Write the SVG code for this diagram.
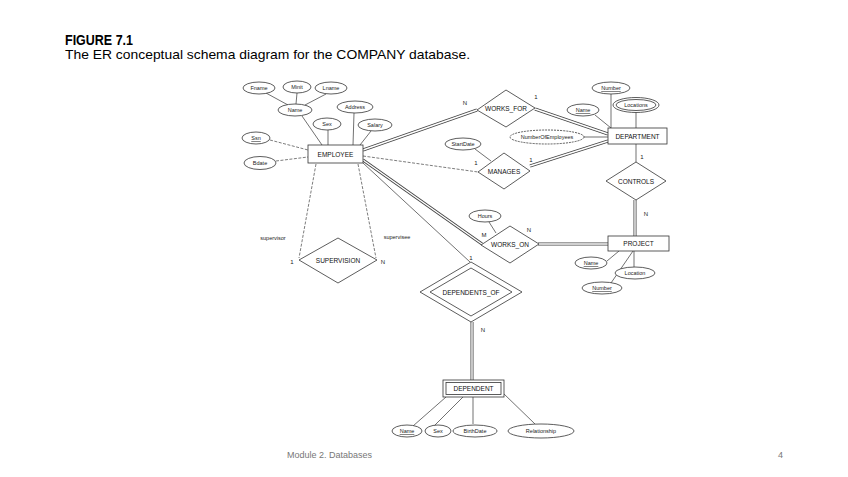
<svg xmlns="http://www.w3.org/2000/svg" width="848" height="477" viewBox="0 0 848 477">
<style>
.t{font-family:"Liberation Sans",Arial,sans-serif;fill:#000}
.lab{font-family:"Liberation Sans",Arial,sans-serif;font-size:5.5px;text-anchor:middle;fill:#222}
.ent{font-family:"Liberation Sans",Arial,sans-serif;font-size:6.5px;text-anchor:middle;fill:#111}
.card{font-family:"Liberation Sans",Arial,sans-serif;font-size:6px;text-anchor:middle;fill:#222}
.sh{fill:#fff;stroke:#333;stroke-width:0.8}
.ln{fill:none;stroke:#333;stroke-width:0.7}
.dl{fill:none;stroke:#444;stroke-width:0.7;stroke-dasharray:3 1.5}
.d1{fill:none;stroke:#444;stroke-width:3}
.d2{fill:none;stroke:#fff;stroke-width:1.4}
.dash{stroke-dasharray:2 1}
</style>
<rect width="848" height="477" fill="#fff"/>
<text class="t" x="65" y="45" font-size="14" font-weight="bold" textLength="68" lengthAdjust="spacingAndGlyphs">FIGURE 7.1</text>
<text class="t" x="65" y="59" font-size="13" textLength="405" lengthAdjust="spacingAndGlyphs">The ER conceptual schema diagram for the COMPANY database.</text>

<g id="connectors">
<line class="ln" x1="266" y1="93" x2="288" y2="105"/>
<line class="ln" x1="297" y1="93" x2="296" y2="104"/>
<line class="ln" x1="326" y1="94" x2="305" y2="105"/>
<line class="ln" x1="302" y1="116" x2="322" y2="145"/>
<line class="ln" x1="328" y1="130" x2="328" y2="145"/>
<line class="ln" x1="354" y1="113" x2="353" y2="145"/>
<line class="ln" x1="371" y1="131" x2="360" y2="145"/>
<line class="dl" x1="270" y1="140" x2="308" y2="150"/>
<line class="dl" x1="276" y1="161" x2="308" y2="157"/>
<line class="dl" x1="316" y1="164" x2="299" y2="258"/>
<line class="dl" x1="358" y1="164" x2="376" y2="258"/>
<path class="d1" d="M363,150 L477,110"/><path class="d2" d="M363,150 L477,110"/>
<path class="d1" d="M535,109 L608,134"/><path class="d2" d="M535,109 L608,134"/>
<line class="dl" x1="363" y1="156" x2="478" y2="172"/>
<path class="d1" d="M530,166 L608,141"/><path class="d2" d="M530,166 L608,141"/>
<line class="ln" x1="475" y1="149" x2="491" y2="161"/>
<line class="ln" x1="611" y1="94" x2="611" y2="128"/>
<line class="ln" x1="595" y1="115" x2="611" y2="128"/>
<line class="ln" x1="636" y1="112" x2="636" y2="128"/>
<line class="ln" x1="584" y1="137" x2="608" y2="137"/>
<line class="ln" x1="636" y1="144" x2="636" y2="162"/>
<path class="d1" d="M635,200 L635,236"/><path class="d2" d="M635,200 L635,236"/>
<path class="d1" d="M363,160 L482,244"/><path class="d2" d="M363,160 L482,244"/>
<path class="d1" d="M538,244 L608,244"/><path class="d2" d="M538,244 L608,244"/>
<line class="ln" x1="489" y1="222" x2="496" y2="233"/>
<line class="ln" x1="363" y1="163" x2="470" y2="262"/>
<path class="d1" d="M472,322 L472,380"/><path class="d2" d="M472,322 L472,380"/>
<line class="ln" x1="607" y1="261" x2="619" y2="251"/>
<line class="ln" x1="634" y1="251" x2="634" y2="267"/>
<line class="ln" x1="611" y1="283" x2="633" y2="251"/>
<line class="ln" x1="413" y1="426" x2="446" y2="397"/>
<line class="ln" x1="434" y1="426" x2="463" y2="397"/>
<line class="ln" x1="473" y1="397" x2="473" y2="424"/>
<line class="ln" x1="503" y1="393" x2="535" y2="424"/>
</g>

<g id="labels">
<text class="card" x="465" y="105">N</text>
<text class="card" x="536" y="99">1</text>
<text class="card" x="476" y="165">1</text>
<text class="card" x="531" y="162">1</text>
<text class="card" x="642" y="159">1</text>
<text class="card" x="646" y="216">N</text>
<text class="card" x="484" y="237" font-size="7">M</text>
<text class="card" x="529" y="232">N</text>
<text class="card" x="471" y="260">1</text>
<text class="card" x="483" y="332">N</text>
<text class="lab" x="273" y="240">supervisor</text>
<text class="lab" x="397" y="239">supervisee</text>
<text class="card" x="292" y="264">1</text>
<text class="card" x="383" y="264">N</text>
</g>

<g id="EMPLOYEE"><rect class="sh" x="308" y="145" width="55" height="18"/><text class="ent" x="335.5" y="156.5">EMPLOYEE</text></g>
<g id="Fname"><ellipse class="sh" cx="259" cy="88" rx="16" ry="6"/><text class="lab" x="259" y="90">Fname</text></g>
<g id="Minit"><ellipse class="sh" cx="297" cy="87" rx="14" ry="6"/><text class="lab" x="297" y="89">Minit</text></g>
<g id="Lname"><ellipse class="sh" cx="331" cy="88" rx="16" ry="6"/><text class="lab" x="331" y="90">Lname</text></g>
<g id="Name"><ellipse class="sh" cx="295" cy="110" rx="17" ry="6"/><text class="lab" x="295" y="112">Name</text></g>
<g id="Address"><ellipse class="sh" cx="355" cy="107" rx="18" ry="6"/><text class="lab" x="355" y="109">Address</text></g>
<g id="Sex"><ellipse class="sh" cx="327" cy="124" rx="14" ry="6"/><text class="lab" x="327" y="126">Sex</text></g>
<g id="Salary"><ellipse class="sh" cx="375" cy="125" rx="17" ry="6"/><text class="lab" x="375" y="127">Salary</text></g>
<g id="Ssn"><ellipse class="sh" cx="256" cy="138" rx="14" ry="6"/><text class="lab" x="256" y="140" text-decoration="underline">Ssn</text></g>
<g id="Bdate"><ellipse class="sh" cx="260" cy="163" rx="16" ry="6.5"/><text class="lab" x="260" y="165">Bdate</text></g>

<g id="WORKS_FOR"><polygon class="sh" points="506,90 535,108 506,127 477,110"/><text class="ent" x="506" y="110.5">WORKS_FOR</text></g>
<g id="DEPARTMENT"><rect class="sh" x="608" y="128" width="59" height="16"/><text class="ent" x="637.5" y="138.5">DEPARTMENT</text></g>
<g id="DeptNumber"><ellipse class="sh" cx="611" cy="88" rx="19" ry="6"/><text class="lab" x="611" y="90" text-decoration="underline">Number</text></g>
<g id="DeptName"><ellipse class="sh" cx="583" cy="110" rx="16" ry="6"/><text class="lab" x="583" y="112" text-decoration="underline">Name</text></g>
<g id="Locations"><ellipse class="sh" cx="636" cy="105" rx="23" ry="7.5"/><ellipse class="sh" cx="636" cy="105" rx="20" ry="5.5"/><text class="lab" x="636" y="107">Locations</text></g>
<g id="NumberOfEmployees"><ellipse class="sh dash" cx="547" cy="137" rx="37" ry="7"/><text class="lab" x="547" y="139">NumberOfEmployees</text></g>
<g id="StartDate"><ellipse class="sh" cx="463" cy="144" rx="18" ry="6"/><text class="lab" x="463" y="146">StartDate</text></g>
<g id="MANAGES"><polygon class="sh" points="504,153 530,171 504,189 478,172"/><text class="ent" x="504" y="173.5">MANAGES</text></g>
<g id="CONTROLS"><polygon class="sh" points="636,162 666,181 636,200 606,181"/><text class="ent" x="636" y="183.5">CONTROLS</text></g>
<g id="PROJECT"><rect class="sh" x="608" y="236" width="61" height="15"/><text class="ent" x="638.5" y="246">PROJECT</text></g>
<g id="ProjName"><ellipse class="sh" cx="591" cy="263" rx="16" ry="6"/><text class="lab" x="591" y="265" text-decoration="underline">Name</text></g>
<g id="Location"><ellipse class="sh" cx="635" cy="273" rx="20" ry="6"/><text class="lab" x="635" y="275">Location</text></g>
<g id="ProjNumber"><ellipse class="sh" cx="602" cy="288" rx="20" ry="6"/><text class="lab" x="602" y="290" text-decoration="underline">Number</text></g>
<g id="Hours"><ellipse class="sh" cx="485" cy="216" rx="16" ry="6"/><text class="lab" x="485" y="218">Hours</text></g>
<g id="WORKS_ON"><polygon class="sh" points="510,226 539,244 510,263 481,245"/><text class="ent" x="510" y="247">WORKS_ON</text></g>
<g id="SUPERVISION"><polygon class="sh" points="338,238 377,260 338,283 299,260"/><text class="ent" x="338" y="262.5">SUPERVISION</text></g>
<g id="DEPENDENTS_OF"><polygon class="sh" points="471,262 522,292 471,322 420,292"/><polygon class="sh" points="471,268 512,292 471,316 430,292"/><text class="ent" x="471" y="294.5">DEPENDENTS_OF</text></g>
<g id="DEPENDENT"><rect class="sh" x="443" y="380" width="61" height="17"/><rect class="sh" x="446" y="382.5" width="55" height="12"/><text class="ent" x="473.5" y="391">DEPENDENT</text></g>
<g id="DepName"><ellipse class="sh" cx="407" cy="431" rx="15" ry="6"/><text class="lab" x="407" y="433" text-decoration="underline">Name</text></g>
<g id="DepSex"><ellipse class="sh" cx="438" cy="431" rx="13" ry="6"/><text class="lab" x="438" y="433">Sex</text></g>
<g id="BirthDate"><ellipse class="sh" cx="475" cy="431" rx="22" ry="6"/><text class="lab" x="475" y="433">BirthDate</text></g>
<g id="Relationship"><ellipse class="sh" cx="541" cy="431" rx="33" ry="7"/><text class="lab" x="541" y="433">Relationship</text></g>

<text class="t" x="287" y="458" font-size="9" fill="#777" style="fill:#777">Module 2. Databases</text>
<text class="t" x="778" y="458" font-size="9" style="fill:#777">4</text>
</svg>
